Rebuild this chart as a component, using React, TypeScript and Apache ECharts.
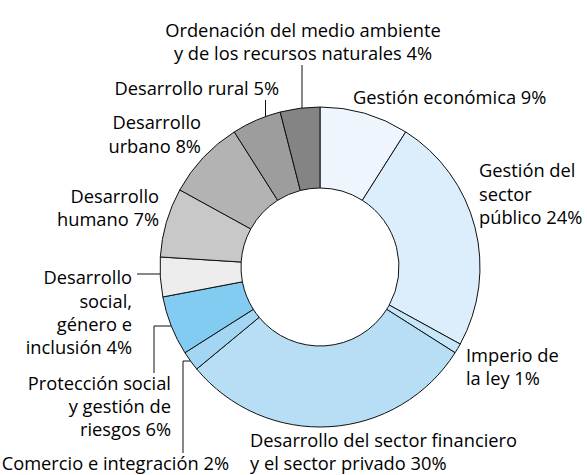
import React, { useEffect, useRef } from "react";
import * as echarts from "echarts";

const categories = [
  "Gestión económica",
  "Gestión del sector público",
  "Imperio de la ley",
  "Desarrollo del sector financiero y el sector privado",
  "Comercio e integración",
  "Protección social y gestión de riesgos",
  "Desarrollo social, género e inclusión",
  "Desarrollo humano",
  "Desarrollo urbano",
  "Desarrollo rural",
  "Ordenación del medio ambiente y de los recursos naturales",
];
const values = [9, 24, 1, 30, 2, 6, 4, 7, 8, 5, 4];
const wrappedNames = [
  "Gestión económica",
  "Gestión del\nsector\npúblico",
  "Imperio de\nla ley",
  "Desarrollo del sector financiero\ny el sector privado",
  "Comercio e integración",
  "Protección social\ny gestión de\nriesgos",
  "Desarrollo\nsocial,\ngénero e\ninclusión",
  "Desarrollo\nhumano",
  "Desarrollo\nurbano",
  "Desarrollo rural",
  "Ordenación del medio ambiente\ny de los recursos naturales",
];
const colors = [
  "#EEF5FD",
  "#DCEEFB",
  "#C8E6F9",
  "#B7DEF5",
  "#A3D6F3",
  "#82CCF1",
  "#EDEDED",
  "#C8C8C8",
  "#B3B3B3",
  "#9D9D9D",
  "#848484",
];

// label anchor layout: [x, y, align, leader points]
const labelPos: [number, number, string, number[][] | null][] = [
  [353, 96.7, "left", null],
  [479, 193.2, "left", null],
  [466, 366.2, "left", null],
  [250, 451, "left", null],
  [229, 462.5, "right", [[200, 361], [183, 361], [183, 453]]],
  [171, 405.7, "right", [[192, 326], [154, 326], [154, 373]]],
  [132, 311.7, "right", [[180, 274], [158, 274], [137, 274]]],
  [159, 207.2, "right", null],
  [201, 133.5, "right", null],
  [279, 87.7, "right", [[265.5, 139], [265.5, 120], [265.5, 100]]],
  [303, 41.2, "center", [[302, 127], [302, 96], [302, 65]]],
];

export default function App() {
  const ref = useRef<HTMLDivElement>(null);
  useEffect(() => {
    document.body.style.margin = "0";
    const chart = echarts.init(ref.current!, null, { renderer: "svg" });
    const data = categories.map((name, i) => ({
      name,
      value: values[i],
      itemStyle: { color: colors[i] },
      labelLine: { show: labelPos[i][3] !== null },
    }));
    chart.setOption({
      animation: false,
      series: [
        {
          type: "pie",
          center: [320, 267],
          radius: [79, 160],
          startAngle: 90,
          clockwise: true,
          avoidLabelOverlap: false,
          silent: true,
          itemStyle: { borderColor: "#111", borderWidth: 1 },
          label: {
            show: true,
            position: "outside",
            formatter: (p: any) => wrappedNames[p.dataIndex] + " " + p.value + "%",
            fontFamily: "Open Sans",
            fontSize: 18.3,
            lineHeight: 23.3,
            color: "#000",
          },
          labelLine: {
            lineStyle: { color: "#111", width: 1 },
          },
          labelLayout: (params: any) => {
            const [x, y, align, pts] = labelPos[params.dataIndex];
            const out: any = { x, y, align, verticalAlign: "middle" };
            if (pts) out.labelLinePoints = pts;
            return out;
          },
          data,
        },
      ],
    });
    return () => chart.dispose();
  }, []);
  return <div ref={ref} style={{ width: 587, height: 475 }} />;
}
